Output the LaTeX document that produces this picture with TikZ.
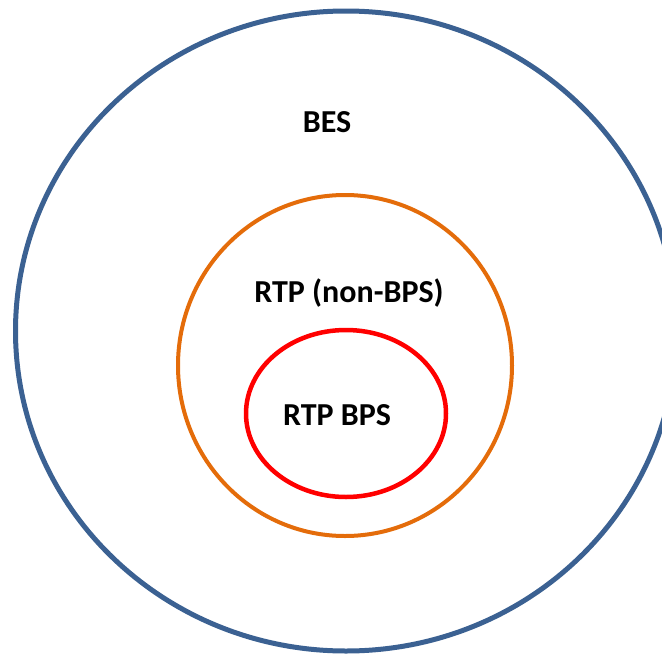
\documentclass[tikz,border=0pt]{standalone}
\usepackage{fontspec}
\setmainfont{Carlito}
\usepackage{xcolor}
\usepackage{tikz}
\usetikzlibrary{shapes.geometric}
\definecolor{besblue}{HTML}{3B6192}
\definecolor{rtporange}{HTML}{E46C0A}
\definecolor{bpsred}{HTML}{FF0000}
\tikzset{x=1pt, y=-1pt,
         ring/.style={ellipse, draw, inner sep=0pt, line width=4.5pt},
         setname/.style={font=\fontsize{32}{38}\selectfont\bfseries},
         }

\begin{document}
\begin{tikzpicture}
    \useasboundingbox (0,0) rectangle (662,654);
    % nested sets
    \node[ring, besblue, line width=5pt, minimum width=661pt, minimum height=640pt] (bes) at (346,331) {};
    \node[ring, rtporange, line width=4pt, minimum width=334pt, minimum height=341pt] (rtp) at (345,365.5) {};
    \node[ring, bpsred, minimum width=200pt, minimum height=167pt] (bps) at (346,413.5) {};

    \node[setname] (besname) at (327,122) {BES};
    \node[setname] (rtpname) at (349,293) {RTP (non-BPS)};
    \node[setname] (bpsname) at (337,415) {RTP BPS};
\end{tikzpicture}
\end{document}
